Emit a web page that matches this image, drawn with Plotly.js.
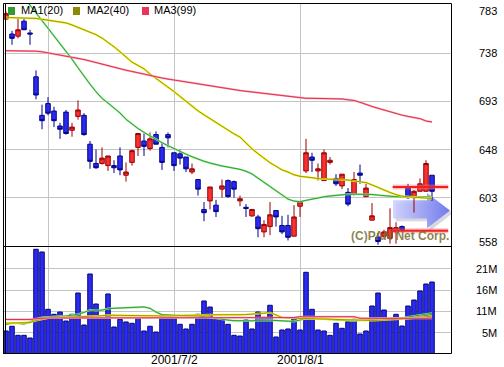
<!DOCTYPE html>
<html><head><meta charset="utf-8">
<script src="https://cdn.plot.ly/plotly-3.0.1.min.js"></script>
<style>html,body{margin:0;padding:0;background:#fff;}#chart{width:504px;height:367px;}</style>
</head><body><div id="chart"></div>
<script>
// ---------------- DATA ----------------
const dates = ['2001/5/23','2001/5/24','2001/5/25','2001/5/28','2001/5/29','2001/5/30','2001/5/31',
'2001/6/1','2001/6/4','2001/6/5','2001/6/6','2001/6/7','2001/6/8','2001/6/11','2001/6/12','2001/6/13','2001/6/14','2001/6/15','2001/6/18','2001/6/19','2001/6/20','2001/6/21','2001/6/22','2001/6/25','2001/6/26','2001/6/27','2001/6/28','2001/6/29',
'2001/7/2','2001/7/3','2001/7/4','2001/7/5','2001/7/6','2001/7/9','2001/7/10','2001/7/11','2001/7/12','2001/7/13','2001/7/16','2001/7/17','2001/7/18','2001/7/19','2001/7/23','2001/7/24','2001/7/25','2001/7/26','2001/7/27','2001/7/30','2001/7/31',
'2001/8/1','2001/8/2','2001/8/3','2001/8/6','2001/8/7','2001/8/8','2001/8/9','2001/8/10','2001/8/13','2001/8/14','2001/8/15','2001/8/16','2001/8/17','2001/8/20','2001/8/21','2001/8/22','2001/8/23','2001/8/24','2001/8/27','2001/8/28','2001/8/29','2001/8/30','2001/8/31'];

const open  = [770,756,754,768,757,716,680,691,684,670,683,666,679,680,653,635,635,633,633,642,624,636,650,656,649,662,650,662,645,644,641,627,620,592,600,596,611,619,618,600,594,586,585,571,576,591,577,577,567,595,628,641,628,619,636,621,614,608,606,626,604,582,566,567,565,571,576,612,603,609,609,624];
const high  = [777,759,771,771,760,722,690,697,688,673,685,673,694,682,656,648,650,642,638,650,636,648,663,663,664,665,655,664,645,648,641,635,620,599,613,601,620,620,619,605,597,592,587,582,599,591,586,587,596,599,658,645,635,648,641,625,625,612,627,634,616,598,570,573,593,580,577,616,610,621,638,624];
const low   = [769,746,752,760,746,695,667,680,669,658,662,660,676,661,630,630,634,628,626,624,618,633,642,642,647,653,629,650,628,634,627,625,605,581,592,585,603,603,603,595,585,585,566,566,568,576,569,563,567,585,626,627,619,619,634,614,611,595,605,616,604,582,559,564,560,560,571,602,589,609,609,600];
const close = [775,752,760,760,756,699,675,682,675,667,663,669,685,662,637,631,640,642,631,629,627,647,663,651,658,653,636,659,633,640,630,630,611,589,613,590,614,604,611,602,593,592,574,578,587,585,571,566,585,599,645,638,630,645,638,616,625,597,620,624,612,586,562,571,575,575,573,603,609,616,635,609];

const ma1 = [811.9,804.7,797.6,790.5,783.3,776.1,768.9,761.7,754.6,747.4,740.3,732.5,724.5,716.6,709.2,702.1,695.9,691.5,687.0,682.2,676.3,671.9,667.7,664.0,660.7,657.3,654.4,651.6,648.8,646.0,643.7,641.3,639.0,637.1,635.4,633.8,632.6,631.6,630.6,629.5,627.7,625.2,621.3,617.5,613.3,609.1,605.3,601.7,599.8,599.3,600.5,601.8,603.0,603.8,604.6,605.3,606.1,606.2,606.3,606.4,606.5,606.0,605.4,604.8,604.2,603.9,603.8,603.8,603.7,603.6,603.6,603.6];
const ma2 = [771.5,771.4,771.2,771.2,771.0,770.6,769.8,768.9,768.1,767.3,766.4,764.5,762.4,760.3,758.2,755.4,752.3,748.6,744.2,739.5,734.5,729.7,726.6,723.5,718.6,714.6,710.6,706.6,702.2,697.7,693.1,688.5,684.2,680.5,676.8,673.1,669.4,666.1,662.7,659.6,653.9,648.7,644.2,639.7,635.7,632.4,629.0,627.0,624.4,623.0,622.6,621.7,620.8,620.5,620.4,620.3,620.2,619.5,618.7,618.0,617.1,615.0,612.4,609.9,607.9,605.9,604.4,603.9,603.5,602.9,602.4,602.2];
const ma3 = [740.4,740.4,740.4,740.4,740.4,740.0,739.4,738.4,737.4,736.5,735.6,734.5,733.4,732.2,730.8,729.3,727.7,726.0,724.6,723.4,722.2,721.0,719.7,718.5,716.8,715.8,714.9,713.9,713.0,712.0,711.0,710.0,709.1,708.1,707.2,706.3,705.5,704.7,704.0,703.2,702.5,701.8,701.1,700.4,699.7,698.9,698.3,697.5,696.7,695.9,695.9,695.9,695.9,695.9,695.9,695.9,695.3,694.6,693.9,692.2,690.0,688.3,686.6,684.9,682.9,681.6,680.2,679.0,677.9,676.9,674.7,673.8];

// volume in millions of shares
const volume = [5.72,6.89,4.65,4.65,3.98,26.03,25.36,11.11,9.87,10.44,8.20,9.87,15.16,7.21,19.89,12.43,9.12,14.92,6.71,8.63,7.96,7.63,8.95,5.72,6.89,5.47,9.62,9.62,9.12,7.38,6.22,7.38,9.87,13.18,11.68,8.63,8.63,7.38,4.65,4.47,8.45,6.22,10.44,9.12,12.11,4.23,5.97,6.22,8.87,5.97,20.31,11.11,5.97,5.72,4.65,7.63,6.39,8.03,8.63,4.97,5.72,11.93,15.16,10.94,8.63,9.87,6.96,11.93,13.42,15.66,17.40,17.90];
const vma1 = [7.33,7.71,7.63,7.46,7.96,8.63,9.05,9.20,9.30,9.37,9.45,9.65,9.87,10.34,10.94,10.84,10.91,11.29,11.34,11.41,11.46,11.51,11.61,11.71,11.36,10.44,9.77,9.65,9.60,9.57,9.52,9.50,9.47,9.27,9.02,8.78,8.60,8.43,8.28,8.25,8.23,8.25,8.35,8.43,8.38,8.33,8.30,8.20,8.08,8.45,8.83,8.87,8.87,8.78,8.60,8.45,8.40,8.33,8.28,8.40,8.60,8.68,8.70,8.75,8.80,8.85,8.95,9.20,9.45,9.70,9.92,10.12];
const vma2 = [7.66,7.68,7.71,7.73,7.81,8.30,8.65,8.92,9.00,9.05,9.12,9.17,9.25,9.30,9.37,9.42,9.52,9.65,9.62,9.57,9.52,9.50,9.47,9.45,9.45,9.45,9.45,9.45,9.50,9.57,9.62,9.70,9.75,9.77,9.75,9.75,9.72,9.70,9.72,9.77,9.79,9.92,10.04,10.17,10.27,9.70,9.10,8.95,8.90,8.87,8.83,8.80,8.75,8.70,8.65,8.60,8.55,8.50,8.45,8.38,8.28,8.33,8.38,8.45,8.50,8.55,8.65,8.80,8.95,9.12,9.27,9.42];
const vma3 = [8.58,8.58,8.58,8.58,8.58,8.78,8.95,8.95,8.95,8.95,8.95,8.95,8.95,8.95,8.95,8.95,8.95,8.95,8.95,8.95,8.95,8.95,8.95,8.95,8.95,9.07,9.07,9.07,9.07,9.07,9.07,9.07,9.07,9.07,9.07,9.07,9.07,9.07,9.07,9.07,9.07,9.07,9.07,9.07,9.07,9.07,9.07,9.07,9.07,9.27,9.27,9.27,9.27,9.27,9.27,9.27,9.27,9.27,9.27,8.87,8.87,8.87,8.87,8.87,8.87,8.87,8.87,8.87,8.87,8.87,8.87,8.87];

const gridDates = ['2001/6/1','2001/7/2','2001/8/1'];
const dateLabels = ['','2001/7/2','2001/8/1'];
const priceGrid = [603,648,693,738];
const priceLabels = [783,738,693,648,603,558];
const volGrid = [5.3,10.6,15.9,21.2];
const volLabels = ['5M','11M','16M','21M'];
const levels = [613,572];
const legendNames = ['MA1(20)','MA2(40)','MA3(99)'];
const copyright = '(C)PAN Net Corp.';

// ---------------- LAYOUT HELPERS ----------------
const W=504,H=367,L=3,R=52,T=4,B=13;
const PW=W-L-R, PH=H-T-B;
const pxX = p => (p-L)/PW;
const pxY = p => (H-B-p)/PH;
const split = pxY(247);
const FONT = 'Liberation Sans, Arial, sans-serif';
const xi = dates.map((d,i)=>i);
const gridIdx = gridDates.map(d=>dates.indexOf(d));
const n = dates.length;
const priceRange = [556.9, 784.09];
const volRange = [0, 26.6];

const colMA = [['#2f9f2f','#9ee89e'],['#a09a00','#eeee22'],['#e0305a','#ffaaaa']];
const legendSq = ['#339933','#8c8a00','#e8365a'];

// decorative arrow near the latest candles (data coords)
const ax0 = n-7.5, ax1 = n-1.83, ax2 = n+2.0;
const ayMid = 591, bodyH = 8.5, headH = 16.5;
const arrowX = [ax0,ax1,ax1,ax2,ax1,ax1,ax0,ax0];
const arrowY = [ayMid+bodyH+1,ayMid+bodyH+1,ayMid+headH,ayMid,ayMid-headH,ayMid-bodyH+1,ayMid-bodyH+1,ayMid+bodyH+1];

const traces = [];
traces.push({type:'scatter',mode:'lines',x:arrowX.map(v=>v+0.45),y:arrowY.map(v=>v-2.6),fill:'toself',
  fillcolor:'rgba(110,110,140,0.28)',line:{width:0},hoverinfo:'skip',xaxis:'x',yaxis:'y'});
traces.push({type:'scatter',mode:'lines',x:arrowX,y:arrowY,fill:'toself',line:{width:0},
  fillgradient:{type:'horizontal',colorscale:[[0,'rgba(205,208,255,0.85)'],[1,'rgba(104,114,238,0.92)']]},
  hoverinfo:'skip',xaxis:'x',yaxis:'y'});

traces.push({type:'candlestick',x:xi,open:open,high:high,low:low,close:close,xaxis:'x',yaxis:'y3',
  increasing:{line:{color:'#9a0000',width:1},fillcolor:'#f83232'},
  decreasing:{line:{color:'#00008a',width:1},fillcolor:'#2b2bef'},
  whiskerwidth:0,hoverinfo:'skip'});

[ma1,ma2,ma3].forEach((m,k)=>{
  traces.push({type:'scatter',mode:'lines',x:xi,y:m,xaxis:'x',yaxis:'y3',line:{color:colMA[k][1],width:2},hoverinfo:'skip'});
  traces.push({type:'scatter',mode:'lines',x:xi,y:m,xaxis:'x',yaxis:'y3',line:{color:colMA[k][0],width:1},hoverinfo:'skip'});
});

traces.push({type:'bar',x:xi,y:volume,xaxis:'x',yaxis:'y2',width:0.75,
  marker:{color:'#2b2bf0',line:{color:'#000080',width:1}},hoverinfo:'skip'});
[vma1,vma2,vma3].forEach((m,k)=>{
  traces.push({type:'scatter',mode:'lines',x:xi,y:m,xaxis:'x',yaxis:'y2',line:{color:colMA[k][1],width:2},hoverinfo:'skip'});
  traces.push({type:'scatter',mode:'lines',x:xi,y:m,xaxis:'x',yaxis:'y2',line:{color:colMA[k][0],width:1},hoverinfo:'skip'});
});

const shapes = [];
// white band behind legend
shapes.push({type:'rect',xref:'paper',yref:'paper',x0:0,x1:1,y0:pxY(15),y1:1,fillcolor:'#fff',line:{width:0},layer:'between'});
// support / resistance levels
levels.forEach(v=>{
  shapes.push({type:'line',xref:'x',yref:'y',x0:n-7.55,x1:n+1.7,y0:v,y1:v,line:{color:'rgba(255,110,110,0.45)',width:5},layer:'above'});
  shapes.push({type:'line',xref:'x',yref:'y',x0:n-7.55,x1:n+1.7,y0:v,y1:v,line:{color:'#f02020',width:2},layer:'above'});
});
// frame and panel separator
shapes.push({type:'rect',xref:'paper',yref:'paper',x0:pxX(3.5),x1:pxX(451.5),y0:pxY(353.5),y1:pxY(3.5),line:{color:'#000',width:1},fillcolor:'rgba(0,0,0,0)',layer:'above'});
shapes.push({type:'line',xref:'paper',yref:'paper',x0:pxX(5.5),x1:pxX(5.5),y0:pxY(353.5),y1:pxY(3.5),line:{color:'#000',width:1},layer:'above'});
shapes.push({type:'line',xref:'paper',yref:'paper',x0:pxX(3.5),x1:pxX(451.5),y0:pxY(246.5),y1:pxY(246.5),line:{color:'#000',width:1},layer:'above'});
// legend squares
const sqX = [8,73,142];
sqX.forEach((x,k)=>{
  shapes.push({type:'rect',xref:'paper',yref:'paper',x0:pxX(x),x1:pxX(x+7),y0:pxY(15),y1:pxY(7),fillcolor:legendSq[k],line:{width:0},layer:'above'});
});

const annotations = [];
const txtX = [20.5,87,154];
legendNames.forEach((t,k)=>{
  annotations.push({xref:'paper',yref:'paper',x:pxX(txtX[k]),y:pxY(9.6),xanchor:'left',yanchor:'middle',text:t,showarrow:false,
    borderpad:0,borderwidth:0,font:{family:FONT,size:11,color:'#000'}});
});
priceLabels.forEach(v=>{
  annotations.push({xref:'paper',yref:'y',x:pxX(497),y:v,xanchor:'right',yanchor:'middle',text:String(v),showarrow:false,
    yshift:(v===priceLabels[0]?-5.5:(v===priceLabels[priceLabels.length-1]?4:0)),
    borderpad:0,borderwidth:0,font:{family:FONT,size:11,color:'#000'}});
});
volGrid.forEach((v,k)=>{
  annotations.push({xref:'paper',yref:'y2',x:pxX(497),y:v,xanchor:'right',yanchor:'middle',text:volLabels[k],showarrow:false,
    borderpad:0,borderwidth:0,font:{family:FONT,size:11,color:'#000'}});
});
gridIdx.forEach((g,k)=>{
  if(!dateLabels[k]) return;
  annotations.push({xref:'x',yref:'paper',x:g,y:pxY(360),xanchor:'center',yanchor:'middle',text:dateLabels[k],showarrow:false,
    borderpad:0,borderwidth:0,font:{family:FONT,size:12,color:'#000'}});
});
annotations.push({xref:'paper',yref:'paper',x:pxX(448.5),y:pxY(236.3),xanchor:'right',yanchor:'middle',text:'<b>'+copyright+'</b>',showarrow:false,
  borderpad:0,borderwidth:0,font:{family:FONT,size:12,color:'rgba(118,110,48,0.85)'}});

const gridCol = '#c4c4c4';
const layout = {
  width:W,height:H,margin:{l:L,r:R,t:T,b:B,pad:0},
  paper_bgcolor:'#fff',plot_bgcolor:'#fff',showlegend:false,
  boxgap:0.25,boxgroupgap:0,bargap:0.2,
  xaxis:{range:[(L-6)/6,(W-R-6)/6],tickvals:gridIdx,showticklabels:false,ticks:'',showgrid:true,gridcolor:gridCol,gridwidth:1,
    zeroline:false,showline:false,rangeslider:{visible:false},fixedrange:true,anchor:'y2'},
  yaxis:{domain:[split,1],range:priceRange,tickvals:priceGrid,showticklabels:false,ticks:'',showgrid:true,gridcolor:gridCol,
    zeroline:false,showline:false,anchor:'x',fixedrange:true},
  yaxis3:{overlaying:'y',range:priceRange,visible:false,showgrid:false,zeroline:false,anchor:'x',fixedrange:true},
  yaxis2:{domain:[0,split],range:volRange,tickvals:volGrid,showticklabels:false,ticks:'',showgrid:true,gridcolor:gridCol,
    zeroline:false,showline:false,anchor:'x',fixedrange:true},
  shapes:shapes,annotations:annotations
};
Plotly.newPlot('chart',traces,layout,{staticPlot:true,displayModeBar:false});
</script>
</body></html>
